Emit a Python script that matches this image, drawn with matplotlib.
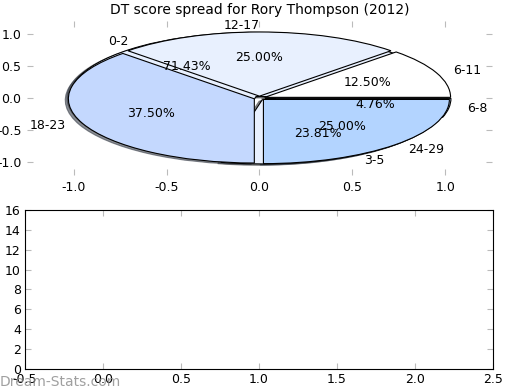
import matplotlib
matplotlib.use("Agg")
import matplotlib.pyplot as plt

# DT score spread data
labels_a = ['0-2', '3-5', '6-8']
values_a = [71.43, 23.81, 4.76]
labels_b = ['6-11', '12-17', '18-23', '24-29']
values_b = [12.5, 25.0, 37.5, 25.0]

colors_a = ['#e8f0fe', '#e8f0fe', '#b3d4ff']
colors_b = ['#ffffff', '#e8f0fe', '#c4d8fe', '#b3d4ff']

plt.rcParams['font.size'] = 9
plt.rcParams['axes.unicode_minus'] = False

fig = plt.figure(figsize=(5.2, 3.9), dpi=100)
ax = fig.add_axes([0.052, 0.551, 0.894, 0.395])
ax2 = fig.add_axes([0.048, 0.054, 0.9, 0.4075])

wp = {'edgecolor': 'black', 'linewidth': 0.8}
sh = {'ox': -0.012, 'oy': -0.015, 'alpha': 0.6}
ax.pie(values_a, labels=labels_a, colors=colors_a, autopct='%.2f%%',
       explode=[0.03] * len(values_a), shadow=sh, frame=True, wedgeprops=wp)
ax.pie(values_b, labels=labels_b, colors=colors_b, autopct='%.2f%%',
       explode=[0.03] * len(values_b), shadow=sh, frame=True, wedgeprops=wp)
ax.set_aspect('auto')
ax.set_xlim(-1.25, 1.25)
ax.set_ylim(-1.2, 1.2)
ax.set_xticks([-1.0, -0.5, 0.0, 0.5, 1.0])
ax.set_yticks([-1.0, -0.5, 0.0, 0.5, 1.0])
for s in ax.spines.values():
    s.set_visible(False)
ax.tick_params(direction='in', color='#bbbbbb', top=True, right=True, length=4, pad=4)
ax.set_title('DT score spread for Rory Thompson (2012)', fontsize=10, pad=5)

ax2.set_xlim(-0.5, 2.5)
ax2.set_ylim(0, 16)
ax2.set_xticks([-0.5, 0.0, 0.5, 1.0, 1.5, 2.0, 2.5])
ax2.set_yticks(range(0, 17, 2))
ax2.tick_params(direction='in', color='#bbbbbb', top=True, right=True, length=4, pad=3)

fig.text(0.0, 0.01, 'Dream-Stats.com', color='#888888', fontsize=10, alpha=0.8)

plt.savefig('out.png')
